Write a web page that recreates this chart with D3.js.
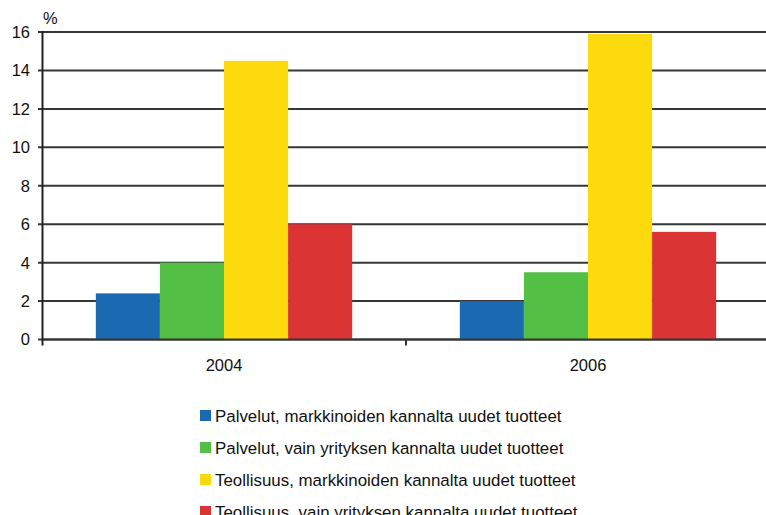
<!DOCTYPE html>
<html>
<head>
<meta charset="utf-8">
<script src="https://cdn.jsdelivr.net/npm/d3@7"></script>
<style>
  html, body { margin: 0; padding: 0; background: #fff; }
  text { font-family: Arial, "Liberation Sans", sans-serif; fill: #111; }
</style>
</head>
<body>
<svg id="chart" width="766" height="515"></svg>
<script>
// Years on the category axis
const years = ["2004", "2006"];

// Series names (legend order)
const seriesNames = [
  "Palvelut, markkinoiden kannalta uudet tuotteet",
  "Palvelut, vain yrityksen kannalta uudet tuotteet",
  "Teollisuus, markkinoiden kannalta uudet tuotteet",
  "Teollisuus, vain yrityksen kannalta uudet tuotteet"
];

// Values per series, one per year (%)
const palvelutMarkkinat = [2.4, 2.0];
const palvelutYritys = [4.0, 3.5];
const teollisuusMarkkinat = [14.5, 15.9];
const teollisuusYritys = [6.0, 5.6];

const yTicks = [0, 2, 4, 6, 8, 10, 12, 14, 16];
const colors = ["#1b6ab1", "#54bf45", "#fdda0d", "#db3434"];

const seriesValues = [palvelutMarkkinat, palvelutYritys, teollisuusMarkkinat, teollisuusYritys];

const svg = d3.select("#chart");
const plotLeft = 42, plotRight = 770, plotTop = 32, plotBottom = 339.5;

const x0 = d3.scaleBand().domain(years).range([plotLeft, plotRight]).paddingInner(0).paddingOuter(0);
const x1 = d3.scaleBand().domain(d3.range(seriesNames.length)).range([0, x0.bandwidth()])
  .paddingInner(0).paddingOuter(0.84);
const y = d3.scaleLinear().domain([0, 16]).range([plotBottom, plotTop]);

// Horizontal gridlines
svg.append("g")
  .selectAll("line")
  .data(yTicks)
  .join("line")
  .attr("x1", plotLeft - 4)
  .attr("x2", plotRight)
  .attr("y1", d => y(d))
  .attr("y2", d => y(d))
  .attr("stroke", "#363636")
  .attr("stroke-width", 2);

// Bars
const groups = svg.append("g")
  .selectAll("g")
  .data(years)
  .join("g")
  .attr("transform", d => `translate(${x0(d)},0)`);

groups.selectAll("rect")
  .data((d, i) => seriesValues.map((vals, s) => ({ s, v: vals[i] })))
  .join("rect")
  .attr("x", d => x1(d.s))
  .attr("width", x1.bandwidth())
  .attr("y", d => y(d.v))
  .attr("height", d => y(0) - y(d.v))
  .attr("fill", d => colors[d.s]);

// Baseline redrawn over bars
svg.append("line")
  .attr("x1", plotLeft).attr("x2", plotRight)
  .attr("y1", y(0)).attr("y2", y(0))
  .attr("stroke", "#363636").attr("stroke-width", 2);

// Y axis line
svg.append("line")
  .attr("x1", plotLeft + 0.5).attr("x2", plotLeft + 0.5)
  .attr("y1", y(16) - 1).attr("y2", y(0) + 6)
  .attr("stroke", "#222").attr("stroke-width", 2);

// Category separator tick
svg.append("g")
  .selectAll("line")
  .data(years.slice(1))
  .join("line")
  .attr("x1", d => x0(d)).attr("x2", d => x0(d))
  .attr("y1", y(0)).attr("y2", y(0) + 6)
  .attr("stroke", "#333").attr("stroke-width", 2);

// Y tick labels
svg.append("g")
  .selectAll("text")
  .data(yTicks)
  .join("text")
  .attr("x", 30)
  .attr("y", d => y(d))
  .attr("dy", "0.36em")
  .attr("text-anchor", "end")
  .style("font-size", "16.5px")
  .text(d => d);

// Unit label
svg.append("text")
  .attr("x", 43).attr("y", 24)
  .style("font-size", "16.5px")
  .text("%");

// Year labels
svg.append("g")
  .selectAll("text")
  .data(years)
  .join("text")
  .attr("x", d => x0(d) + x0.bandwidth() / 2)
  .attr("y", 371)
  .attr("text-anchor", "middle")
  .style("font-size", "16.5px")
  .text(d => d);

// Legend
const legend = svg.append("g")
  .selectAll("g")
  .data(seriesNames)
  .join("g")
  .attr("transform", (d, i) => `translate(200,${410 + i * 32})`);

legend.append("rect")
  .attr("width", 11).attr("height", 11)
  .attr("fill", (d, i) => colors[i]);

legend.append("text")
  .attr("x", 15)
  .attr("y", 11.5)
  .style("font-size", "16.9px")
  .text(d => d);
</script>
</body>
</html>
